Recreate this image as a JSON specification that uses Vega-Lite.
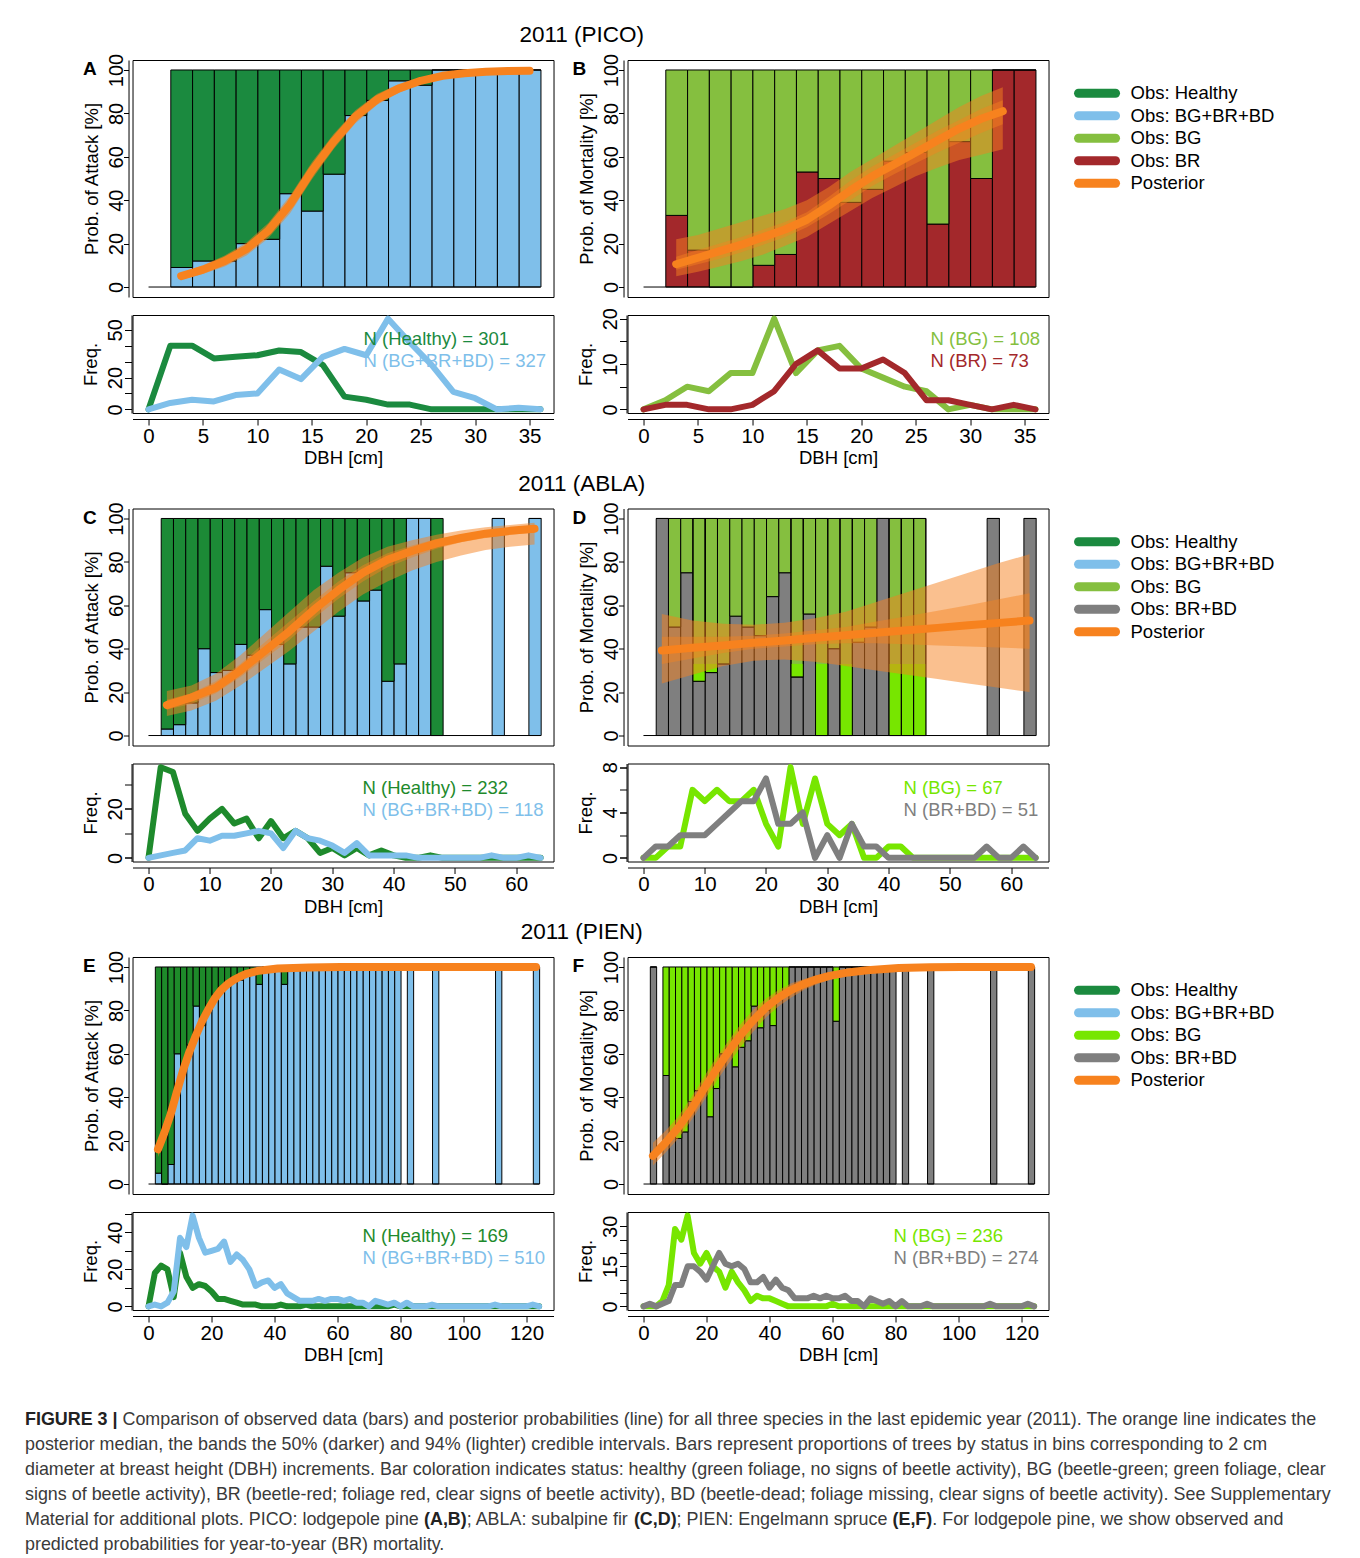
{
"$schema":"https://vega.github.io/schema/vega-lite/v6.json",
"padding":{"left":25,"top":24,"right":0,"bottom":0},
"background":"#ffffff",
"datasets":{
"bars":[
{"p":"A","b":2,"v":9},{"p":"A","b":4,"v":12},{"p":"A","b":6,"v":12},{"p":"A","b":8,"v":20},{"p":"A","b":10,"v":22},{"p":"A","b":12,"v":43},{"p":"A","b":14,"v":35},{"p":"A","b":16,"v":52},{"p":"A","b":18,"v":79},{"p":"A","b":20,"v":86},{"p":"A","b":22,"v":95},{"p":"A","b":24,"v":93},{"p":"A","b":26,"v":100},{"p":"A","b":28,"v":100},{"p":"A","b":30,"v":100},{"p":"A","b":32,"v":100},{"p":"A","b":34,"v":100},
{"p":"B","b":2,"v":33},{"p":"B","b":4,"v":17},{"p":"B","b":6,"v":0},{"p":"B","b":8,"v":0},{"p":"B","b":10,"v":10},{"p":"B","b":12,"v":15},{"p":"B","b":14,"v":53},{"p":"B","b":16,"v":50},{"p":"B","b":18,"v":39},{"p":"B","b":20,"v":45},{"p":"B","b":22,"v":58},{"p":"B","b":24,"v":62},{"p":"B","b":26,"v":29},{"p":"B","b":28,"v":67},{"p":"B","b":30,"v":50},{"p":"B","b":32,"v":100},{"p":"B","b":34,"v":100},
{"p":"C","b":2,"v":3},{"p":"C","b":4,"v":5},{"p":"C","b":6,"v":15},{"p":"C","b":8,"v":40},{"p":"C","b":10,"v":29},{"p":"C","b":12,"v":30},{"p":"C","b":14,"v":42},{"p":"C","b":16,"v":37},{"p":"C","b":18,"v":58},{"p":"C","b":20,"v":42},{"p":"C","b":22,"v":33},{"p":"C","b":24,"v":50},{"p":"C","b":26,"v":50},{"p":"C","b":28,"v":78},{"p":"C","b":30,"v":55},{"p":"C","b":32,"v":75},{"p":"C","b":34,"v":62},{"p":"C","b":36,"v":67},{"p":"C","b":38,"v":25},{"p":"C","b":40,"v":33},{"p":"C","b":42,"v":100},{"p":"C","b":44,"v":100},{"p":"C","b":46,"v":0},{"p":"C","b":56,"v":100},{"p":"C","b":62,"v":100},
{"p":"D","b":2,"v":100},{"p":"D","b":4,"v":50},{"p":"D","b":6,"v":75},{"p":"D","b":8,"v":25,"g":33},{"p":"D","b":10,"v":29,"g":33},{"p":"D","b":12,"v":33},{"p":"D","b":14,"v":55},{"p":"D","b":16,"v":50},{"p":"D","b":18,"v":46},{"p":"D","b":20,"v":64},{"p":"D","b":22,"v":75},{"p":"D","b":24,"v":27,"g":33},{"p":"D","b":26,"v":56},{"p":"D","b":28,"v":0,"g":33},{"p":"D","b":30,"v":40},{"p":"D","b":32,"v":0,"g":33},{"p":"D","b":34,"v":43},{"p":"D","b":36,"v":50},{"p":"D","b":38,"v":100},{"p":"D","b":40,"v":0,"g":33},{"p":"D","b":42,"v":0,"g":33},{"p":"D","b":44,"v":0,"g":33},{"p":"D","b":56,"v":100},{"p":"D","b":62,"v":100},
{"p":"E","b":2,"v":5},{"p":"E","b":4,"v":0},{"p":"E","b":6,"v":9},{"p":"E","b":8,"v":60},{"p":"E","b":10,"v":53},{"p":"E","b":12,"v":64},{"p":"E","b":14,"v":82},{"p":"E","b":16,"v":73},{"p":"E","b":18,"v":80},{"p":"E","b":20,"v":87},{"p":"E","b":22,"v":90},{"p":"E","b":24,"v":92},{"p":"E","b":26,"v":93},{"p":"E","b":28,"v":94},{"p":"E","b":30,"v":97},{"p":"E","b":32,"v":98},{"p":"E","b":34,"v":92},{"p":"E","b":36,"v":100},{"p":"E","b":38,"v":100},{"p":"E","b":40,"v":100},{"p":"E","b":42,"v":92},{"p":"E","b":44,"v":100},{"p":"E","b":46,"v":100},{"p":"E","b":48,"v":100},{"p":"E","b":50,"v":100},{"p":"E","b":52,"v":100},{"p":"E","b":54,"v":100},{"p":"E","b":56,"v":100},{"p":"E","b":58,"v":100},{"p":"E","b":60,"v":100},{"p":"E","b":62,"v":100},{"p":"E","b":64,"v":100},{"p":"E","b":66,"v":100},{"p":"E","b":68,"v":100},{"p":"E","b":70,"v":100},{"p":"E","b":72,"v":100},{"p":"E","b":74,"v":100},{"p":"E","b":76,"v":100},{"p":"E","b":78,"v":100},{"p":"E","b":82,"v":100},{"p":"E","b":90,"v":100},{"p":"E","b":110,"v":100},{"p":"E","b":122,"v":100},
{"p":"F","b":2,"v":100},{"p":"F","b":6,"v":50},{"p":"F","b":8,"v":22},{"p":"F","b":10,"v":21},{"p":"F","b":12,"v":24},{"p":"F","b":14,"v":38},{"p":"F","b":16,"v":43},{"p":"F","b":18,"v":45},{"p":"F","b":20,"v":31},{"p":"F","b":22,"v":44},{"p":"F","b":24,"v":60},{"p":"F","b":26,"v":62},{"p":"F","b":28,"v":54},{"p":"F","b":30,"v":63},{"p":"F","b":32,"v":66},{"p":"F","b":34,"v":82},{"p":"F","b":36,"v":72},{"p":"F","b":38,"v":80},{"p":"F","b":40,"v":73},{"p":"F","b":42,"v":85},{"p":"F","b":44,"v":88},{"p":"F","b":46,"v":100},{"p":"F","b":48,"v":100},{"p":"F","b":50,"v":100},{"p":"F","b":52,"v":100},{"p":"F","b":54,"v":100},{"p":"F","b":56,"v":100},{"p":"F","b":58,"v":100},{"p":"F","b":60,"v":75},{"p":"F","b":62,"v":100},{"p":"F","b":64,"v":100},{"p":"F","b":66,"v":100},{"p":"F","b":68,"v":100},{"p":"F","b":70,"v":100},{"p":"F","b":72,"v":100},{"p":"F","b":74,"v":100},{"p":"F","b":76,"v":100},{"p":"F","b":78,"v":100},{"p":"F","b":82,"v":100},{"p":"F","b":90,"v":100},{"p":"F","b":110,"v":100},{"p":"F","b":122,"v":100}
],
"post":[
{"p":"A","x":3,"m":5,"l9":3.5,"h9":6.5,"l5":4.25,"h5":5.75},{"p":"A","x":5,"m":8,"l9":6,"h9":10,"l5":7,"h5":9},{"p":"A","x":7,"m":12,"l9":9.5,"h9":14.5,"l5":10.75,"h5":13.25},{"p":"A","x":9,"m":17.5,"l9":14.5,"h9":20.5,"l5":16,"h5":19},{"p":"A","x":11,"m":26,"l9":22.5,"h9":29.5,"l5":24.25,"h5":27.75},{"p":"A","x":13,"m":38,"l9":34,"h9":42,"l5":36,"h5":40},{"p":"A","x":15,"m":53.5,"l9":49.5,"h9":57.5,"l5":51.5,"h5":55.5},{"p":"A","x":17,"m":67,"l9":63.5,"h9":70.5,"l5":65.25,"h5":68.75},{"p":"A","x":19,"m":78.5,"l9":75.5,"h9":81.5,"l5":77,"h5":80},{"p":"A","x":21,"m":86.5,"l9":84,"h9":89,"l5":85.25,"h5":87.75},{"p":"A","x":23,"m":91.5,"l9":89.5,"h9":93.5,"l5":90.5,"h5":92.5},{"p":"A","x":25,"m":95,"l9":93.5,"h9":96.5,"l5":94.25,"h5":95.75},{"p":"A","x":27,"m":97.3,"l9":96.3,"h9":98.3,"l5":96.8,"h5":97.8},{"p":"A","x":29,"m":98.5,"l9":97.8,"h9":99.2,"l5":98.15,"h5":98.85},{"p":"A","x":31,"m":99.2,"l9":98.6,"h9":99.6,"l5":98.9,"h5":99.45},{"p":"A","x":33,"m":99.5,"l9":99.1,"h9":99.8,"l5":99.3,"h5":99.65},{"p":"A","x":35,"m":99.7,"l9":99.4,"h9":99.9,"l5":99.55,"h5":99.8},
{"p":"B","x":3,"m":10.5,"l9":5,"h9":22,"l5":8,"h5":14},{"p":"B","x":5,"m":13.5,"l9":7,"h9":24,"l5":10.5,"h5":17},{"p":"B","x":7,"m":16.5,"l9":9.5,"h9":27,"l5":13,"h5":20},{"p":"B","x":9,"m":19.5,"l9":12,"h9":30,"l5":16,"h5":23},{"p":"B","x":11,"m":23,"l9":15,"h9":33,"l5":19.5,"h5":26.5},{"p":"B","x":13,"m":26.5,"l9":19,"h9":36,"l5":23,"h5":30},{"p":"B","x":15,"m":31,"l9":23,"h9":40,"l5":27.5,"h5":34.5},{"p":"B","x":17,"m":37.5,"l9":29,"h9":46,"l5":33.5,"h5":41.5},{"p":"B","x":19,"m":44.5,"l9":35,"h9":53,"l5":40,"h5":49},{"p":"B","x":21,"m":51,"l9":41,"h9":59,"l5":46.5,"h5":55.5},{"p":"B","x":23,"m":56.5,"l9":46,"h9":65,"l5":52,"h5":61},{"p":"B","x":25,"m":62,"l9":51,"h9":71,"l5":57,"h5":66.5},{"p":"B","x":27,"m":67.5,"l9":55,"h9":77,"l5":62,"h5":72},{"p":"B","x":29,"m":73,"l9":58.5,"h9":83,"l5":66.5,"h5":77},{"p":"B","x":31,"m":77.5,"l9":61,"h9":88,"l5":71,"h5":82},{"p":"B","x":33,"m":81,"l9":63.5,"h9":92,"l5":75,"h5":86},
{"p":"C","x":3,"m":14,"l9":9,"h9":20.5,"l5":12,"h5":16.5},{"p":"C","x":7,"m":17.5,"l9":11.5,"h9":23,"l5":14.5,"h5":19.5},{"p":"C","x":11,"m":22,"l9":16,"h9":28.5,"l5":19.5,"h5":25},{"p":"C","x":15,"m":30,"l9":23,"h9":37,"l5":27,"h5":33},{"p":"C","x":19,"m":39,"l9":31,"h9":47,"l5":35.5,"h5":43},{"p":"C","x":23,"m":48,"l9":39,"h9":57,"l5":44,"h5":52.5},{"p":"C","x":27,"m":58,"l9":48,"h9":67,"l5":54,"h5":62},{"p":"C","x":31,"m":67,"l9":57,"h9":75,"l5":63,"h5":71},{"p":"C","x":35,"m":75,"l9":65,"h9":82,"l5":71,"h5":78.5},{"p":"C","x":39,"m":81,"l9":71,"h9":87,"l5":77.5,"h5":84},{"p":"C","x":43,"m":85,"l9":76,"h9":90,"l5":82,"h5":87.5},{"p":"C","x":47,"m":88.5,"l9":80,"h9":92.5,"l5":86,"h5":90.5},{"p":"C","x":51,"m":91,"l9":83,"h9":94.5,"l5":89,"h5":92.5},{"p":"C","x":55,"m":93,"l9":85.5,"h9":96,"l5":91,"h5":94.5},{"p":"C","x":59,"m":94.3,"l9":87,"h9":97,"l5":92.5,"h5":95.5},{"p":"C","x":63,"m":95.3,"l9":88,"h9":98,"l5":93.5,"h5":96.5},
{"p":"D","x":3,"m":39.2,"l9":24,"h9":56,"l5":33,"h5":45.5},{"p":"D","x":8,"m":40.4,"l9":28,"h9":53,"l5":35.5,"h5":45.5},{"p":"D","x":13,"m":41.5,"l9":32,"h9":51.5,"l5":38,"h5":45.5},{"p":"D","x":18,"m":42.7,"l9":34.5,"h9":51,"l5":40,"h5":46},{"p":"D","x":23,"m":43.8,"l9":35,"h9":52,"l5":41,"h5":47},{"p":"D","x":28,"m":45,"l9":34,"h9":54,"l5":42,"h5":48.5},{"p":"D","x":33,"m":46.2,"l9":32,"h9":57,"l5":42.5,"h5":50},{"p":"D","x":38,"m":47.3,"l9":30,"h9":61.5,"l5":42.5,"h5":52.5},{"p":"D","x":43,"m":48.5,"l9":28,"h9":66,"l5":42,"h5":55},{"p":"D","x":48,"m":49.6,"l9":26,"h9":70.5,"l5":41.5,"h5":57.5},{"p":"D","x":53,"m":50.8,"l9":24,"h9":75,"l5":41,"h5":60},{"p":"D","x":58,"m":51.9,"l9":22,"h9":79.5,"l5":40.5,"h5":62.8},{"p":"D","x":63,"m":53,"l9":20,"h9":83.5,"l5":40,"h5":65.5},
{"p":"E","x":3,"m":16,"l9":12.5,"h9":20,"l5":14.5,"h5":17.5},{"p":"E","x":5,"m":23.5,"l9":19,"h9":28.5,"l5":21.5,"h5":25.5},{"p":"E","x":7,"m":32,"l9":27,"h9":37,"l5":30,"h5":34},{"p":"E","x":9,"m":42.5,"l9":37.5,"h9":47.5,"l5":40.5,"h5":44.5},{"p":"E","x":11,"m":52.5,"l9":48,"h9":57,"l5":50.5,"h5":54.5},{"p":"E","x":13,"m":61,"l9":57,"h9":65,"l5":59.3,"h5":62.7},{"p":"E","x":15,"m":68.3,"l9":65,"h9":71.5,"l5":66.8,"h5":69.8},{"p":"E","x":17,"m":75,"l9":72,"h9":78,"l5":73.7,"h5":76.3},{"p":"E","x":19,"m":80.5,"l9":78,"h9":83,"l5":79.4,"h5":81.6},{"p":"E","x":21,"m":85.5,"l9":83.5,"h9":87.5,"l5":84.6,"h5":86.4},{"p":"E","x":23,"m":89.3,"l9":87.5,"h9":91,"l5":88.5,"h5":90},{"p":"E","x":25,"m":92,"l9":90.5,"h9":93.5,"l5":91.4,"h5":92.6},{"p":"E","x":27,"m":94,"l9":92.5,"h9":95.3,"l5":93.5,"h5":94.5},{"p":"E","x":29,"m":95.5,"l9":94.3,"h9":96.6,"l5":95.1,"h5":95.9},{"p":"E","x":31,"m":96.8,"l9":95.7,"h9":97.7,"l5":96.5,"h5":97.1},{"p":"E","x":35,"m":98.3,"l9":97.6,"h9":98.9,"l5":98.1,"h5":98.5},{"p":"E","x":41,"m":99.3,"l9":98.9,"h9":99.6,"l5":99.2,"h5":99.4},{"p":"E","x":51,"m":99.8,"l9":99.6,"h9":99.95,"l5":99.75,"h5":99.85},{"p":"E","x":61,"m":99.95,"l9":99.9,"h9":100,"l5":99.93,"h5":99.97},{"p":"E","x":81,"m":100,"l9":100,"h9":100,"l5":100,"h5":100},{"p":"E","x":123,"m":100,"l9":100,"h9":100,"l5":100,"h5":100},
{"p":"F","x":3,"m":13,"l9":8.5,"h9":19,"l5":11,"h5":15.5},{"p":"F","x":7,"m":19,"l9":14.5,"h9":24.5,"l5":17,"h5":21.5},{"p":"F","x":11,"m":26,"l9":21,"h9":31,"l5":23.5,"h5":28.5},{"p":"F","x":15,"m":34,"l9":29,"h9":39.5,"l5":31.5,"h5":36.5},{"p":"F","x":19,"m":43.5,"l9":38,"h9":49,"l5":41,"h5":46},{"p":"F","x":23,"m":52.5,"l9":47,"h9":58,"l5":50,"h5":55},{"p":"F","x":27,"m":61,"l9":55.5,"h9":66,"l5":58.5,"h5":63.5},{"p":"F","x":31,"m":69,"l9":63.5,"h9":74,"l5":66.5,"h5":71.5},{"p":"F","x":35,"m":75.7,"l9":70.5,"h9":80.5,"l5":73.5,"h5":78},{"p":"F","x":39,"m":81.5,"l9":77,"h9":85.5,"l5":79.5,"h5":83.5},{"p":"F","x":43,"m":86,"l9":82,"h9":89.5,"l5":84.3,"h5":87.8},{"p":"F","x":47,"m":89.5,"l9":86,"h9":92.5,"l5":88,"h5":91},{"p":"F","x":51,"m":92.2,"l9":89.5,"h9":94.5,"l5":91,"h5":93.4},{"p":"F","x":55,"m":94.3,"l9":92,"h9":96.2,"l5":93.3,"h5":95.2},{"p":"F","x":59,"m":95.9,"l9":94,"h9":97.4,"l5":95,"h5":96.7},{"p":"F","x":65,"m":97.5,"l9":96.2,"h9":98.6,"l5":97,"h5":98},{"p":"F","x":71,"m":98.5,"l9":97.6,"h9":99.2,"l5":98.2,"h5":98.8},{"p":"F","x":81,"m":99.5,"l9":99,"h9":99.8,"l5":99.3,"h5":99.7},{"p":"F","x":91,"m":99.9,"l9":99.7,"h9":100,"l5":99.8,"h5":99.95},{"p":"F","x":101,"m":100,"l9":99.9,"h9":100,"l5":99.95,"h5":100},{"p":"F","x":123,"m":100,"l9":100,"h9":100,"l5":100,"h5":100}
],
"freq":[
{"p":"A","x":0,"a":0,"b":0},{"p":"A","x":2,"a":40,"b":4},{"p":"A","x":4,"a":40,"b":6},{"p":"A","x":6,"a":32,"b":5},{"p":"A","x":8,"a":33,"b":9},{"p":"A","x":10,"a":34,"b":10},{"p":"A","x":12,"a":37,"b":25},{"p":"A","x":14,"a":36,"b":19},{"p":"A","x":16,"a":28,"b":33},{"p":"A","x":18,"a":8,"b":38},{"p":"A","x":20,"a":6,"b":34},{"p":"A","x":22,"a":3,"b":57},{"p":"A","x":24,"a":3,"b":42},{"p":"A","x":26,"a":0,"b":28},{"p":"A","x":28,"a":0,"b":11},{"p":"A","x":30,"a":0,"b":7},{"p":"A","x":32,"a":0,"b":0},{"p":"A","x":34,"a":0,"b":1},{"p":"A","x":36,"a":0,"b":0},
{"p":"B","x":0,"a":0,"b":0},{"p":"B","x":2,"a":2,"b":1},{"p":"B","x":4,"a":5,"b":1},{"p":"B","x":6,"a":4,"b":0},{"p":"B","x":8,"a":8,"b":0},{"p":"B","x":10,"a":8,"b":1},{"p":"B","x":12,"a":20,"b":4},{"p":"B","x":14,"a":8,"b":10},{"p":"B","x":16,"a":13,"b":13},{"p":"B","x":18,"a":14,"b":9},{"p":"B","x":20,"a":9,"b":9},{"p":"B","x":22,"a":7,"b":11},{"p":"B","x":24,"a":5,"b":8},{"p":"B","x":26,"a":4,"b":2},{"p":"B","x":28,"a":0,"b":2},{"p":"B","x":30,"a":1,"b":1},{"p":"B","x":32,"a":0,"b":0},{"p":"B","x":34,"a":0,"b":1},{"p":"B","x":36,"a":0,"b":0},
{"p":"C","x":0,"a":0,"b":0},{"p":"C","x":2,"a":37,"b":1},{"p":"C","x":4,"a":35,"b":2},{"p":"C","x":6,"a":18,"b":3},{"p":"C","x":8,"a":11,"b":8},{"p":"C","x":10,"a":16,"b":7},{"p":"C","x":12,"a":20,"b":9},{"p":"C","x":14,"a":14,"b":9},{"p":"C","x":16,"a":16,"b":10},{"p":"C","x":18,"a":8,"b":11},{"p":"C","x":20,"a":15,"b":10},{"p":"C","x":22,"a":8,"b":4},{"p":"C","x":24,"a":11,"b":11},{"p":"C","x":26,"a":8,"b":8},{"p":"C","x":28,"a":2,"b":7},{"p":"C","x":30,"a":4,"b":5},{"p":"C","x":32,"a":1,"b":2},{"p":"C","x":34,"a":4,"b":6},{"p":"C","x":36,"a":1,"b":1},{"p":"C","x":38,"a":3,"b":1},{"p":"C","x":40,"a":1,"b":1},{"p":"C","x":42,"a":0,"b":1},{"p":"C","x":44,"a":0,"b":0},{"p":"C","x":46,"a":1,"b":0},{"p":"C","x":48,"a":0,"b":0},{"p":"C","x":50,"a":0,"b":0},{"p":"C","x":52,"a":0,"b":0},{"p":"C","x":54,"a":0,"b":0},{"p":"C","x":56,"a":0,"b":1},{"p":"C","x":58,"a":0,"b":0},{"p":"C","x":60,"a":0,"b":0},{"p":"C","x":62,"a":0,"b":1},{"p":"C","x":64,"a":0,"b":0},
{"p":"D","x":0,"a":0,"b":0},{"p":"D","x":2,"a":0,"b":1},{"p":"D","x":4,"a":1,"b":1},{"p":"D","x":6,"a":1,"b":2},{"p":"D","x":8,"a":6,"b":2},{"p":"D","x":10,"a":5,"b":2},{"p":"D","x":12,"a":6,"b":3},{"p":"D","x":14,"a":5,"b":4},{"p":"D","x":16,"a":5,"b":5},{"p":"D","x":18,"a":6,"b":5},{"p":"D","x":20,"a":3,"b":7},{"p":"D","x":22,"a":1,"b":3},{"p":"D","x":24,"a":8,"b":3},{"p":"D","x":26,"a":3,"b":4},{"p":"D","x":28,"a":7,"b":0},{"p":"D","x":30,"a":3,"b":2},{"p":"D","x":32,"a":2,"b":0},{"p":"D","x":34,"a":3,"b":3},{"p":"D","x":36,"a":0,"b":1},{"p":"D","x":38,"a":0,"b":1},{"p":"D","x":40,"a":1,"b":0},{"p":"D","x":42,"a":1,"b":0},{"p":"D","x":44,"a":0,"b":0},{"p":"D","x":46,"a":0,"b":0},{"p":"D","x":48,"a":0,"b":0},{"p":"D","x":50,"a":0,"b":0},{"p":"D","x":52,"a":0,"b":0},{"p":"D","x":54,"a":0,"b":0},{"p":"D","x":56,"a":0,"b":1},{"p":"D","x":58,"a":0,"b":0},{"p":"D","x":60,"a":0,"b":0},{"p":"D","x":62,"a":0,"b":1},{"p":"D","x":64,"a":0,"b":0},
{"p":"E","x":0,"a":0,"b":0},{"p":"E","x":2,"a":18,"b":1},{"p":"E","x":4,"a":22,"b":0},{"p":"E","x":6,"a":20,"b":2},{"p":"E","x":8,"a":5,"b":8},{"p":"E","x":10,"a":29,"b":37},{"p":"E","x":12,"a":16,"b":32},{"p":"E","x":14,"a":10,"b":49},{"p":"E","x":16,"a":12,"b":37},{"p":"E","x":18,"a":11,"b":29},{"p":"E","x":20,"a":8,"b":30},{"p":"E","x":22,"a":4,"b":31},{"p":"E","x":24,"a":4,"b":35},{"p":"E","x":26,"a":3,"b":24},{"p":"E","x":28,"a":2,"b":28},{"p":"E","x":30,"a":1,"b":25},{"p":"E","x":32,"a":1,"b":20},{"p":"E","x":34,"a":1,"b":11},{"p":"E","x":36,"a":0,"b":13},{"p":"E","x":38,"a":0,"b":14},{"p":"E","x":40,"a":0,"b":10},{"p":"E","x":42,"a":1,"b":12},{"p":"E","x":44,"a":0,"b":7},{"p":"E","x":46,"a":0,"b":5},{"p":"E","x":48,"a":0,"b":3},{"p":"E","x":50,"a":1,"b":3},{"p":"E","x":52,"a":0,"b":3},{"p":"E","x":54,"a":0,"b":4},{"p":"E","x":56,"a":0,"b":3},{"p":"E","x":58,"a":0,"b":4},{"p":"E","x":60,"a":0,"b":4},{"p":"E","x":62,"a":0,"b":3},{"p":"E","x":64,"a":0,"b":4},{"p":"E","x":66,"a":0,"b":2},{"p":"E","x":68,"a":0,"b":2},{"p":"E","x":70,"a":0,"b":0},{"p":"E","x":72,"a":0,"b":3},{"p":"E","x":74,"a":0,"b":2},{"p":"E","x":76,"a":0,"b":1},{"p":"E","x":78,"a":1,"b":2},{"p":"E","x":80,"a":0,"b":0},{"p":"E","x":82,"a":0,"b":2},{"p":"E","x":84,"a":0,"b":0},{"p":"E","x":86,"a":0,"b":0},{"p":"E","x":88,"a":0,"b":0},{"p":"E","x":90,"a":0,"b":1},{"p":"E","x":92,"a":0,"b":0},{"p":"E","x":94,"a":0,"b":0},{"p":"E","x":96,"a":0,"b":0},{"p":"E","x":98,"a":0,"b":0},{"p":"E","x":100,"a":0,"b":0},{"p":"E","x":102,"a":0,"b":0},{"p":"E","x":104,"a":0,"b":0},{"p":"E","x":106,"a":0,"b":0},{"p":"E","x":108,"a":0,"b":0},{"p":"E","x":110,"a":0,"b":1},{"p":"E","x":112,"a":0,"b":0},{"p":"E","x":114,"a":0,"b":0},{"p":"E","x":116,"a":0,"b":0},{"p":"E","x":118,"a":0,"b":0},{"p":"E","x":120,"a":0,"b":0},{"p":"E","x":122,"a":0,"b":1},{"p":"E","x":124,"a":0,"b":0},
{"p":"F","x":0,"a":0,"b":0},{"p":"F","x":2,"a":0,"b":1},{"p":"F","x":4,"a":0,"b":0},{"p":"F","x":6,"a":2,"b":1},{"p":"F","x":8,"a":8,"b":2},{"p":"F","x":10,"a":29,"b":8},{"p":"F","x":12,"a":25,"b":8},{"p":"F","x":14,"a":34,"b":15},{"p":"F","x":16,"a":20,"b":15},{"p":"F","x":18,"a":16,"b":13},{"p":"F","x":20,"a":20,"b":10},{"p":"F","x":22,"a":15,"b":15},{"p":"F","x":24,"a":13,"b":20},{"p":"F","x":26,"a":7,"b":16},{"p":"F","x":28,"a":13,"b":15},{"p":"F","x":30,"a":9,"b":16},{"p":"F","x":32,"a":6,"b":14},{"p":"F","x":34,"a":2,"b":9},{"p":"F","x":36,"a":4,"b":9},{"p":"F","x":38,"a":3,"b":11},{"p":"F","x":40,"a":3,"b":7},{"p":"F","x":42,"a":2,"b":10},{"p":"F","x":44,"a":1,"b":7},{"p":"F","x":46,"a":0,"b":6},{"p":"F","x":48,"a":0,"b":3},{"p":"F","x":50,"a":0,"b":3},{"p":"F","x":52,"a":0,"b":3},{"p":"F","x":54,"a":0,"b":4},{"p":"F","x":56,"a":0,"b":3},{"p":"F","x":58,"a":0,"b":4},{"p":"F","x":60,"a":1,"b":3},{"p":"F","x":62,"a":0,"b":3},{"p":"F","x":64,"a":0,"b":4},{"p":"F","x":66,"a":0,"b":2},{"p":"F","x":68,"a":0,"b":2},{"p":"F","x":70,"a":0,"b":0},{"p":"F","x":72,"a":0,"b":3},{"p":"F","x":74,"a":0,"b":2},{"p":"F","x":76,"a":0,"b":1},{"p":"F","x":78,"a":0,"b":2},{"p":"F","x":80,"a":0,"b":0},{"p":"F","x":82,"a":0,"b":2},{"p":"F","x":84,"a":0,"b":0},{"p":"F","x":86,"a":0,"b":0},{"p":"F","x":88,"a":0,"b":0},{"p":"F","x":90,"a":0,"b":1},{"p":"F","x":92,"a":0,"b":0},{"p":"F","x":94,"a":0,"b":0},{"p":"F","x":96,"a":0,"b":0},{"p":"F","x":98,"a":0,"b":0},{"p":"F","x":100,"a":0,"b":0},{"p":"F","x":102,"a":0,"b":0},{"p":"F","x":104,"a":0,"b":0},{"p":"F","x":106,"a":0,"b":0},{"p":"F","x":108,"a":0,"b":0},{"p":"F","x":110,"a":0,"b":1},{"p":"F","x":112,"a":0,"b":0},{"p":"F","x":114,"a":0,"b":0},{"p":"F","x":116,"a":0,"b":0},{"p":"F","x":118,"a":0,"b":0},{"p":"F","x":120,"a":0,"b":0},{"p":"F","x":122,"a":0,"b":1},{"p":"F","x":124,"a":0,"b":0}
],
"notes":[
{"p":"A","k":1,"t":"N (Healthy) = 301"},{"p":"A","k":2,"t":"N (BG+BR+BD) = 327"},
{"p":"B","k":1,"t":"N (BG) = 108"},{"p":"B","k":2,"t":"N (BR) = 73"},
{"p":"C","k":1,"t":"N (Healthy) = 232"},{"p":"C","k":2,"t":"N (BG+BR+BD) = 118"},
{"p":"D","k":1,"t":"N (BG) = 67"},{"p":"D","k":2,"t":"N (BR+BD) = 51"},
{"p":"E","k":1,"t":"N (Healthy) = 169"},{"p":"E","k":2,"t":"N (BG+BR+BD) = 510"},
{"p":"F","k":1,"t":"N (BG) = 236"},{"p":"F","k":2,"t":"N (BR+BD) = 274"}
],
"letters":[{"p":"A"},{"p":"B"},{"p":"C"},{"p":"D"},{"p":"E"},{"p":"F"}],
"legend":[
{"sec":1,"i":1,"t":"Obs: Healthy","k":"healthy"},{"sec":1,"i":2,"t":"Obs: BG+BR+BD","k":"attacked"},{"sec":1,"i":3,"t":"Obs: BG","k":"bg"},{"sec":1,"i":4,"t":"Obs: BR","k":"br"},{"sec":1,"i":5,"t":"Posterior","k":"post"},
{"sec":2,"i":1,"t":"Obs: Healthy","k":"healthy"},{"sec":2,"i":2,"t":"Obs: BG+BR+BD","k":"attacked"},{"sec":2,"i":3,"t":"Obs: BG","k":"bg"},{"sec":2,"i":4,"t":"Obs: BR+BD","k":"brbd"},{"sec":2,"i":5,"t":"Posterior","k":"post"},
{"sec":3,"i":1,"t":"Obs: Healthy","k":"healthy"},{"sec":3,"i":2,"t":"Obs: BG+BR+BD","k":"attacked"},{"sec":3,"i":3,"t":"Obs: BG","k":"bglime"},{"sec":3,"i":4,"t":"Obs: BR+BD","k":"brbd"},{"sec":3,"i":5,"t":"Posterior","k":"post"}
],
"cap":[
{"g":"b1","l":1,"t":"FIGURE 3 |"},
{"g":"n1","l":1,"t":"Comparison of observed data (bars) and posterior probabilities (line) for all three species in the last epidemic year (2011). The orange line indicates the"},
{"g":"n","l":2,"t":"posterior median, the bands the 50% (darker) and 94% (lighter) credible intervals. Bars represent proportions of trees by status in bins corresponding to 2 cm"},
{"g":"n","l":3,"t":"diameter at breast height (DBH) increments. Bar coloration indicates status: healthy (green foliage, no signs of beetle activity), BG (beetle-green; green foliage, clear"},
{"g":"n","l":4,"t":"signs of beetle activity), BR (beetle-red; foliage red, clear signs of beetle activity), BD (beetle-dead; foliage missing, clear signs of beetle activity). See Supplementary"},
{"g":"s1","l":5,"t":"Material for additional plots. PICO: lodgepole pine"},
{"g":"s2","l":5,"t":"(A,B)"},
{"g":"s3","l":5,"t":"; ABLA: subalpine fir"},
{"g":"s4","l":5,"t":"(C,D)"},
{"g":"s5","l":5,"t":"; PIEN: Engelmann spruce"},
{"g":"s6","l":5,"t":"(E,F)"},
{"g":"s7","l":5,"t":". For lodgepole pine, we show observed and"},
{"g":"n","l":6,"t":"predicted probabilities for year-to-year (BR) mortality."}
]
},
"vconcat":[
{"vconcat":[
{"title":{"text":"2011 (PICO)","anchor":"middle","fontSize":22.5,"offset":6,"dx":-96},
 "spacing":17,
 "resolve":{"scale":{"x":"independent","y":"independent","color":"independent"}},
 "hconcat":[
  {"vconcat":[
   {"width":421,"height":237,
    "layer":[
     {"data":{"name":"bars"},"transform":[{"filter":"datum.p=='A'"}],"mark":{"type":"rect","color":"#7fbfea","stroke":"#000","strokeWidth":1,"binSpacing":0},"encoding":{"x":{"field":"b","type":"quantitative","bin":{"binned":true,"step":2},"scale":{"domain":[-1.47,37.2],"nice":false,"zero":false},"axis":null},"y":{"field":"v","type":"quantitative","scale":{"domain":[-4.6,104.6],"nice":false,"zero":false},"axis":{"values":[0,20,40,60,80,100],"title":"Prob. of Attack [%]","offset":4,"tickSize":5,"labelAngle":-90,"labelAlign":"center","labelBaseline":"alphabetic","labelPadding":1.5,"labelFontSize":20,"titleFontSize":18.5,"titlePadding":5,"labelOverlap":false,"labelFlush":false}},"y2":{"datum":0}}},
     {"data":{"name":"bars"},"transform":[{"filter":"datum.p=='A'"}],"mark":{"type":"rect","color":"#1b8a3f","stroke":"#000","strokeWidth":1,"binSpacing":0},"encoding":{"x":{"field":"b","type":"quantitative","bin":{"binned":true,"step":2},"axis":null},"y":{"field":"v","type":"quantitative"},"y2":{"datum":100}}},
     {"data":{"values":[{}]},"mark":{"type":"rule","color":"#000","strokeWidth":1},"encoding":{"x":{"datum":0,"type":"quantitative","axis":null},"x2":{"datum":36},"y":{"datum":0,"type":"quantitative"}}},
     {"data":{"name":"post"},"transform":[{"filter":"datum.p=='A'"}],"mark":{"type":"area","color":"#f58220","opacity":0.5},"encoding":{"x":{"field":"x","type":"quantitative","axis":null},"y":{"field":"l9","type":"quantitative"},"y2":{"field":"h9"}}},
     {"data":{"name":"post"},"transform":[{"filter":"datum.p=='A'"}],"mark":{"type":"area","color":"#f58220","opacity":0.45},"encoding":{"x":{"field":"x","type":"quantitative","axis":null},"y":{"field":"l5","type":"quantitative"},"y2":{"field":"h5"}}},
     {"data":{"name":"post"},"transform":[{"filter":"datum.p=='A'"}],"mark":{"type":"line","color":"#f7821e","strokeWidth":8,"strokeCap":"round","strokeJoin":"round"},"encoding":{"x":{"field":"x","type":"quantitative","axis":null},"y":{"field":"m","type":"quantitative"}}},
     {"data":{"name":"letters"},"transform":[{"filter":"datum.p=='A'"}],"mark":{"type":"text","align":"left","baseline":"alphabetic","fontSize":19,"fontWeight":"bold","color":"#000","dx":-49.5,"dy":15},"encoding":{"x":{"datum":-1.47,"type":"quantitative","axis":null},"y":{"datum":104.6,"type":"quantitative"},"text":{"field":"p"}}}
    ]},
   {"width":421,"height":98,
    "resolve":{"axis":{"y":"independent"}},
    "layer":[
     {"data":{"name":"freq"},"transform":[{"filter":"datum.p=='A'"}],"mark":{"type":"line","color":"#1b8a3f","strokeWidth":6,"strokeJoin":"round","strokeCap":"round"},"encoding":{"x":{"field":"x","type":"quantitative","scale":{"domain":[-1.47,37.2],"nice":false,"zero":false},"axis":{"values":[0,5,10,15,20,25,30,35],"title":"DBH [cm]","offset":6,"tickSize":6,"labelPadding":1,"labelFontSize":20.5,"labelAngle":0,"titleFontSize":18.5,"titlePadding":2,"labelOverlap":false,"labelFlush":false}},"y":{"field":"a","type":"quantitative","scale":{"domain":[-2.3,59.3],"nice":false,"zero":false},"axis":{"orient":"left","values":[0,20,50],"title":"Freq.","offset":1,"tickSize":7,"labelAngle":-90,"labelAlign":"center","labelBaseline":"alphabetic","labelPadding":3,"labelFontSize":20,"titleFontSize":18.5,"titlePadding":5,"labelOverlap":false,"labelFlush":false}}}},
     {"data":{"name":"freq"},"transform":[{"filter":"datum.p=='A'"}],"mark":{"type":"line","color":"#7fbfea","strokeWidth":6,"strokeJoin":"round","strokeCap":"round"},"encoding":{"x":{"field":"x","type":"quantitative"},"y":{"field":"b","type":"quantitative","axis":{"orient":"left","values":[0,10,20,30,40,50],"labels":false,"domain":false,"title":null,"offset":1,"tickSize":7}}}},
     {"data":{"name":"notes"},"transform":[{"filter":"datum.p=='A' && datum.k==1"}],"mark":{"type":"text","align":"left","baseline":"middle","fontSize":18.5,"color":"#1b8a3f","dx":-190,"dy":24},"encoding":{"x":{"datum":37.2,"type":"quantitative"},"y":{"datum":59.3,"type":"quantitative","axis":null},"text":{"field":"t"}}},
     {"data":{"name":"notes"},"transform":[{"filter":"datum.p=='A' && datum.k==2"}],"mark":{"type":"text","align":"left","baseline":"middle","fontSize":18.5,"color":"#7fbfea","dx":-190,"dy":46},"encoding":{"x":{"datum":37.2,"type":"quantitative"},"y":{"datum":59.3,"type":"quantitative","axis":null},"text":{"field":"t"}}}
    ]}
  ],"spacing":18,"bounds":"flush","resolve":{"scale":{"x":"independent","y":"independent"}}},
  {"vconcat":[
   {"width":421,"height":237,
    "layer":[
     {"data":{"name":"bars"},"transform":[{"filter":"datum.p=='B'"}],"mark":{"type":"rect","color":"#a3282b","stroke":"#000","strokeWidth":1,"binSpacing":0},"encoding":{"x":{"field":"b","type":"quantitative","bin":{"binned":true,"step":2},"scale":{"domain":[-1.47,37.2],"nice":false,"zero":false},"axis":null},"y":{"field":"v","type":"quantitative","scale":{"domain":[-4.6,104.6],"nice":false,"zero":false},"axis":{"values":[0,20,40,60,80,100],"title":"Prob. of Mortality [%]","offset":4,"tickSize":5,"labelAngle":-90,"labelAlign":"center","labelBaseline":"alphabetic","labelPadding":1.5,"labelFontSize":20,"titleFontSize":18.5,"titlePadding":5,"labelOverlap":false,"labelFlush":false}},"y2":{"datum":0}}},
     {"data":{"name":"bars"},"transform":[{"filter":"datum.p=='B'"}],"mark":{"type":"rect","color":"#85bf3f","stroke":"#000","strokeWidth":1,"binSpacing":0},"encoding":{"x":{"field":"b","type":"quantitative","bin":{"binned":true,"step":2},"axis":null},"y":{"field":"v","type":"quantitative"},"y2":{"datum":100}}},
     {"data":{"values":[{}]},"mark":{"type":"rule","color":"#000","strokeWidth":1},"encoding":{"x":{"datum":0,"type":"quantitative","axis":null},"x2":{"datum":36},"y":{"datum":0,"type":"quantitative"}}},
     {"data":{"name":"post"},"transform":[{"filter":"datum.p=='B'"}],"mark":{"type":"area","color":"#f58220","opacity":0.5},"encoding":{"x":{"field":"x","type":"quantitative","axis":null},"y":{"field":"l9","type":"quantitative"},"y2":{"field":"h9"}}},
     {"data":{"name":"post"},"transform":[{"filter":"datum.p=='B'"}],"mark":{"type":"area","color":"#f58220","opacity":0.45},"encoding":{"x":{"field":"x","type":"quantitative","axis":null},"y":{"field":"l5","type":"quantitative"},"y2":{"field":"h5"}}},
     {"data":{"name":"post"},"transform":[{"filter":"datum.p=='B'"}],"mark":{"type":"line","color":"#f7821e","strokeWidth":8,"strokeCap":"round","strokeJoin":"round"},"encoding":{"x":{"field":"x","type":"quantitative","axis":null},"y":{"field":"m","type":"quantitative"}}},
     {"data":{"name":"letters"},"transform":[{"filter":"datum.p=='B'"}],"mark":{"type":"text","align":"left","baseline":"alphabetic","fontSize":19,"fontWeight":"bold","color":"#000","dx":-55,"dy":15},"encoding":{"x":{"datum":-1.47,"type":"quantitative","axis":null},"y":{"datum":104.6,"type":"quantitative"},"text":{"field":"p"}}}
    ]},
   {"width":421,"height":98,
    "resolve":{"axis":{"y":"independent"}},
    "layer":[
     {"data":{"name":"freq"},"transform":[{"filter":"datum.p=='B'"}],"mark":{"type":"line","color":"#85bf3f","strokeWidth":6,"strokeJoin":"round","strokeCap":"round"},"encoding":{"x":{"field":"x","type":"quantitative","scale":{"domain":[-1.47,37.2],"nice":false,"zero":false},"axis":{"values":[0,5,10,15,20,25,30,35],"title":"DBH [cm]","offset":6,"tickSize":6,"labelPadding":1,"labelFontSize":20.5,"labelAngle":0,"titleFontSize":18.5,"titlePadding":2,"labelOverlap":false,"labelFlush":false}},"y":{"field":"a","type":"quantitative","scale":{"domain":[-0.8,20.8],"nice":false,"zero":false},"axis":{"orient":"left","values":[0,10,20],"title":"Freq.","offset":1,"tickSize":7,"labelAngle":-90,"labelAlign":"center","labelBaseline":"alphabetic","labelPadding":3,"labelFontSize":20,"titleFontSize":18.5,"titlePadding":5,"labelOverlap":false,"labelFlush":false}}}},
     {"data":{"name":"freq"},"transform":[{"filter":"datum.p=='B'"}],"mark":{"type":"line","color":"#a3282b","strokeWidth":6,"strokeJoin":"round","strokeCap":"round"},"encoding":{"x":{"field":"x","type":"quantitative"},"y":{"field":"b","type":"quantitative","axis":{"orient":"left","values":[0,5,10,15,20],"labels":false,"domain":false,"title":null,"offset":1,"tickSize":7}}}},
     {"data":{"name":"notes"},"transform":[{"filter":"datum.p=='B' && datum.k==1"}],"mark":{"type":"text","align":"left","baseline":"middle","fontSize":18.5,"color":"#85bf3f","dx":-118,"dy":24},"encoding":{"x":{"datum":37.2,"type":"quantitative"},"y":{"datum":20.8,"type":"quantitative","axis":null},"text":{"field":"t"}}},
     {"data":{"name":"notes"},"transform":[{"filter":"datum.p=='B' && datum.k==2"}],"mark":{"type":"text","align":"left","baseline":"middle","fontSize":18.5,"color":"#a3282b","dx":-118,"dy":46},"encoding":{"x":{"datum":37.2,"type":"quantitative"},"y":{"datum":20.8,"type":"quantitative","axis":null},"text":{"field":"t"}}}
    ]}
  ],"spacing":18,"bounds":"flush","resolve":{"scale":{"x":"independent","y":"independent"}}},
  {"width":200,"height":240,"view":{"stroke":null},
   "data":{"name":"legend"},"transform":[{"filter":"datum.sec==1"}],
   "layer":[
    {"mark":{"type":"rule","strokeWidth":9,"strokeCap":"round"},"encoding":{"x":{"datum":12,"type":"quantitative","scale":{"domain":[0,200],"nice":false,"zero":false},"axis":null},"x2":{"datum":49},"y":{"field":"i","type":"quantitative","scale":{"domain":[-0.476,10.19],"reverse":true,"nice":false,"zero":false},"axis":null},"color":{"field":"k","type":"nominal","scale":{"domain":["healthy","attacked","bg","br","post","brbd","bglime"],"range":["#1b8a3f","#7fbfea","#85bf3f","#a3282b","#f7821e","#7f7f7f","#77e600"]},"legend":null}}},
    {"mark":{"type":"text","align":"left","baseline":"middle","fontSize":18.5,"color":"#000"},"encoding":{"x":{"datum":64,"type":"quantitative","axis":null},"y":{"field":"i","type":"quantitative","axis":null},"text":{"field":"t"}}}
   ]}
 ]},
{"title":{"text":"2011 (ABLA)","anchor":"middle","fontSize":22.5,"offset":6,"dx":-96},
 "spacing":17,
 "resolve":{"scale":{"x":"independent","y":"independent","color":"independent"}},
 "hconcat":[
  {"vconcat":[
   {"width":421,"height":237,
    "layer":[
     {"data":{"name":"bars"},"transform":[{"filter":"datum.p=='C'"}],"mark":{"type":"rect","color":"#7fbfea","stroke":"#000","strokeWidth":1,"binSpacing":0},"encoding":{"x":{"field":"b","type":"quantitative","bin":{"binned":true,"step":2},"scale":{"domain":[-2.6,66.1],"nice":false,"zero":false},"axis":null},"y":{"field":"v","type":"quantitative","scale":{"domain":[-4.6,104.6],"nice":false,"zero":false},"axis":{"values":[0,20,40,60,80,100],"title":"Prob. of Attack [%]","offset":4,"tickSize":5,"labelAngle":-90,"labelAlign":"center","labelBaseline":"alphabetic","labelPadding":1.5,"labelFontSize":20,"titleFontSize":18.5,"titlePadding":5,"labelOverlap":false,"labelFlush":false}},"y2":{"datum":0}}},
     {"data":{"name":"bars"},"transform":[{"filter":"datum.p=='C'"}],"mark":{"type":"rect","color":"#1c8a36","stroke":"#000","strokeWidth":1,"binSpacing":0},"encoding":{"x":{"field":"b","type":"quantitative","bin":{"binned":true,"step":2},"axis":null},"y":{"field":"v","type":"quantitative"},"y2":{"datum":100}}},
     {"data":{"values":[{}]},"mark":{"type":"rule","color":"#000","strokeWidth":1},"encoding":{"x":{"datum":0,"type":"quantitative","axis":null},"x2":{"datum":64},"y":{"datum":0,"type":"quantitative"}}},
     {"data":{"name":"post"},"transform":[{"filter":"datum.p=='C'"}],"mark":{"type":"area","color":"#f58220","opacity":0.5},"encoding":{"x":{"field":"x","type":"quantitative","axis":null},"y":{"field":"l9","type":"quantitative"},"y2":{"field":"h9"}}},
     {"data":{"name":"post"},"transform":[{"filter":"datum.p=='C'"}],"mark":{"type":"area","color":"#f58220","opacity":0.45},"encoding":{"x":{"field":"x","type":"quantitative","axis":null},"y":{"field":"l5","type":"quantitative"},"y2":{"field":"h5"}}},
     {"data":{"name":"post"},"transform":[{"filter":"datum.p=='C'"}],"mark":{"type":"line","color":"#f7821e","strokeWidth":8,"strokeCap":"round","strokeJoin":"round"},"encoding":{"x":{"field":"x","type":"quantitative","axis":null},"y":{"field":"m","type":"quantitative"}}},
     {"data":{"name":"letters"},"transform":[{"filter":"datum.p=='C'"}],"mark":{"type":"text","align":"left","baseline":"alphabetic","fontSize":19,"fontWeight":"bold","color":"#000","dx":-49.5,"dy":15},"encoding":{"x":{"datum":-2.6,"type":"quantitative","axis":null},"y":{"datum":104.6,"type":"quantitative"},"text":{"field":"p"}}}
    ]},
   {"width":421,"height":98,
    "resolve":{"axis":{"y":"independent"}},
    "layer":[
     {"data":{"name":"freq"},"transform":[{"filter":"datum.p=='C'"}],"mark":{"type":"line","color":"#1e8a2c","strokeWidth":6,"strokeJoin":"round","strokeCap":"round"},"encoding":{"x":{"field":"x","type":"quantitative","scale":{"domain":[-2.6,66.1],"nice":false,"zero":false},"axis":{"values":[0,10,20,30,40,50,60],"title":"DBH [cm]","offset":6,"tickSize":6,"labelPadding":1,"labelFontSize":20.5,"labelAngle":0,"titleFontSize":18.5,"titlePadding":2,"labelOverlap":false,"labelFlush":false}},"y":{"field":"a","type":"quantitative","scale":{"domain":[-1.5,38.5],"nice":false,"zero":false},"axis":{"orient":"left","values":[0,20],"title":"Freq.","offset":1,"tickSize":7,"labelAngle":-90,"labelAlign":"center","labelBaseline":"alphabetic","labelPadding":3,"labelFontSize":20,"titleFontSize":18.5,"titlePadding":5,"labelOverlap":false,"labelFlush":false}}}},
     {"data":{"name":"freq"},"transform":[{"filter":"datum.p=='C'"}],"mark":{"type":"line","color":"#7fbfea","strokeWidth":6,"strokeJoin":"round","strokeCap":"round"},"encoding":{"x":{"field":"x","type":"quantitative"},"y":{"field":"b","type":"quantitative","axis":{"orient":"left","values":[0,10,20,30],"labels":false,"domain":false,"title":null,"offset":1,"tickSize":7}}}},
     {"data":{"name":"notes"},"transform":[{"filter":"datum.p=='C' && datum.k==1"}],"mark":{"type":"text","align":"left","baseline":"middle","fontSize":18.5,"color":"#1e8a2c","dx":-191,"dy":24},"encoding":{"x":{"datum":66.1,"type":"quantitative"},"y":{"datum":38.5,"type":"quantitative","axis":null},"text":{"field":"t"}}},
     {"data":{"name":"notes"},"transform":[{"filter":"datum.p=='C' && datum.k==2"}],"mark":{"type":"text","align":"left","baseline":"middle","fontSize":18.5,"color":"#7fbfea","dx":-191,"dy":46},"encoding":{"x":{"datum":66.1,"type":"quantitative"},"y":{"datum":38.5,"type":"quantitative","axis":null},"text":{"field":"t"}}}
    ]}
  ],"spacing":18,"bounds":"flush","resolve":{"scale":{"x":"independent","y":"independent"}}},
  {"vconcat":[
   {"width":421,"height":237,
    "layer":[
     {"data":{"name":"bars"},"transform":[{"filter":"datum.p=='D'"}],"mark":{"type":"rect","color":"#7f7f7f","stroke":"#000","strokeWidth":1,"binSpacing":0},"encoding":{"x":{"field":"b","type":"quantitative","bin":{"binned":true,"step":2},"scale":{"domain":[-2.6,66.1],"nice":false,"zero":false},"axis":null},"y":{"field":"v","type":"quantitative","scale":{"domain":[-4.6,104.6],"nice":false,"zero":false},"axis":{"values":[0,20,40,60,80,100],"title":"Prob. of Mortality [%]","offset":4,"tickSize":5,"labelAngle":-90,"labelAlign":"center","labelBaseline":"alphabetic","labelPadding":1.5,"labelFontSize":20,"titleFontSize":18.5,"titlePadding":5,"labelOverlap":false,"labelFlush":false}},"y2":{"datum":0}}},
     {"data":{"name":"bars"},"transform":[{"filter":"datum.p=='D'"}],"mark":{"type":"rect","color":"#85bf3f","stroke":"#000","strokeWidth":1,"binSpacing":0},"encoding":{"x":{"field":"b","type":"quantitative","bin":{"binned":true,"step":2},"axis":null},"y":{"field":"v","type":"quantitative"},"y2":{"datum":100}}},
     {"data":{"name":"bars"},"transform":[{"filter":"datum.p=='D' && isValid(datum.g)"}],"mark":{"type":"rect","color":"#77e600","binSpacing":0},"encoding":{"x":{"field":"b","type":"quantitative","bin":{"binned":true,"step":2},"axis":null},"y":{"field":"v","type":"quantitative"},"y2":{"field":"g"}}},
     {"data":{"name":"bars"},"transform":[{"filter":"datum.p=='D' && isValid(datum.g)"}],"mark":{"type":"rect","fillOpacity":0,"stroke":"#000","strokeWidth":1,"binSpacing":0},"encoding":{"x":{"field":"b","type":"quantitative","bin":{"binned":true,"step":2},"axis":null},"y":{"field":"v","type":"quantitative"},"y2":{"datum":100}}},
     {"data":{"values":[{}]},"mark":{"type":"rule","color":"#000","strokeWidth":1},"encoding":{"x":{"datum":0,"type":"quantitative","axis":null},"x2":{"datum":64},"y":{"datum":0,"type":"quantitative"}}},
     {"data":{"name":"post"},"transform":[{"filter":"datum.p=='D'"}],"mark":{"type":"area","color":"#f58220","opacity":0.5},"encoding":{"x":{"field":"x","type":"quantitative","axis":null},"y":{"field":"l9","type":"quantitative"},"y2":{"field":"h9"}}},
     {"data":{"name":"post"},"transform":[{"filter":"datum.p=='D'"}],"mark":{"type":"area","color":"#f58220","opacity":0.45},"encoding":{"x":{"field":"x","type":"quantitative","axis":null},"y":{"field":"l5","type":"quantitative"},"y2":{"field":"h5"}}},
     {"data":{"name":"post"},"transform":[{"filter":"datum.p=='D'"}],"mark":{"type":"line","color":"#f7821e","strokeWidth":8,"strokeCap":"round","strokeJoin":"round"},"encoding":{"x":{"field":"x","type":"quantitative","axis":null},"y":{"field":"m","type":"quantitative"}}},
     {"data":{"name":"letters"},"transform":[{"filter":"datum.p=='D'"}],"mark":{"type":"text","align":"left","baseline":"alphabetic","fontSize":19,"fontWeight":"bold","color":"#000","dx":-55,"dy":15},"encoding":{"x":{"datum":-2.6,"type":"quantitative","axis":null},"y":{"datum":104.6,"type":"quantitative"},"text":{"field":"p"}}}
    ]},
   {"width":421,"height":98,
    "resolve":{"axis":{"y":"independent"}},
    "layer":[
     {"data":{"name":"freq"},"transform":[{"filter":"datum.p=='D'"}],"mark":{"type":"line","color":"#77e600","strokeWidth":6,"strokeJoin":"round","strokeCap":"round"},"encoding":{"x":{"field":"x","type":"quantitative","scale":{"domain":[-2.6,66.1],"nice":false,"zero":false},"axis":{"values":[0,10,20,30,40,50,60],"title":"DBH [cm]","offset":6,"tickSize":6,"labelPadding":1,"labelFontSize":20.5,"labelAngle":0,"titleFontSize":18.5,"titlePadding":2,"labelOverlap":false,"labelFlush":false}},"y":{"field":"a","type":"quantitative","scale":{"domain":[-0.32,8.32],"nice":false,"zero":false},"axis":{"orient":"left","values":[0,4,8],"title":"Freq.","offset":1,"tickSize":7,"labelAngle":-90,"labelAlign":"center","labelBaseline":"alphabetic","labelPadding":3,"labelFontSize":20,"titleFontSize":18.5,"titlePadding":5,"labelOverlap":false,"labelFlush":false}}}},
     {"data":{"name":"freq"},"transform":[{"filter":"datum.p=='D'"}],"mark":{"type":"line","color":"#7f7f7f","strokeWidth":6,"strokeJoin":"round","strokeCap":"round"},"encoding":{"x":{"field":"x","type":"quantitative"},"y":{"field":"b","type":"quantitative","axis":{"orient":"left","values":[0,2,4,6,8],"labels":false,"domain":false,"title":null,"offset":1,"tickSize":7}}}},
     {"data":{"name":"notes"},"transform":[{"filter":"datum.p=='D' && datum.k==1"}],"mark":{"type":"text","align":"left","baseline":"middle","fontSize":18.5,"color":"#77e600","dx":-145,"dy":24},"encoding":{"x":{"datum":66.1,"type":"quantitative"},"y":{"datum":8.32,"type":"quantitative","axis":null},"text":{"field":"t"}}},
     {"data":{"name":"notes"},"transform":[{"filter":"datum.p=='D' && datum.k==2"}],"mark":{"type":"text","align":"left","baseline":"middle","fontSize":18.5,"color":"#7f7f7f","dx":-145,"dy":46},"encoding":{"x":{"datum":66.1,"type":"quantitative"},"y":{"datum":8.32,"type":"quantitative","axis":null},"text":{"field":"t"}}}
    ]}
  ],"spacing":18,"bounds":"flush","resolve":{"scale":{"x":"independent","y":"independent"}}},
  {"width":200,"height":240,"view":{"stroke":null},
   "data":{"name":"legend"},"transform":[{"filter":"datum.sec==2"}],
   "layer":[
    {"mark":{"type":"rule","strokeWidth":9,"strokeCap":"round"},"encoding":{"x":{"datum":12,"type":"quantitative","scale":{"domain":[0,200],"nice":false,"zero":false},"axis":null},"x2":{"datum":49},"y":{"field":"i","type":"quantitative","scale":{"domain":[-0.476,10.19],"reverse":true,"nice":false,"zero":false},"axis":null},"color":{"field":"k","type":"nominal","scale":{"domain":["healthy","attacked","bg","br","post","brbd","bglime"],"range":["#1b8a3f","#7fbfea","#85bf3f","#a3282b","#f7821e","#7f7f7f","#77e600"]},"legend":null}}},
    {"mark":{"type":"text","align":"left","baseline":"middle","fontSize":18.5,"color":"#000"},"encoding":{"x":{"datum":64,"type":"quantitative","axis":null},"y":{"field":"i","type":"quantitative","axis":null},"text":{"field":"t"}}}
   ]}
 ]},
{"title":{"text":"2011 (PIEN)","anchor":"middle","fontSize":22.5,"offset":6,"dx":-96},
 "spacing":17,
 "resolve":{"scale":{"x":"independent","y":"independent","color":"independent"}},
 "hconcat":[
  {"vconcat":[
   {"width":421,"height":237,
    "layer":[
     {"data":{"name":"bars"},"transform":[{"filter":"datum.p=='E'"}],"mark":{"type":"rect","color":"#7fbfea","stroke":"#000","strokeWidth":1,"binSpacing":0},"encoding":{"x":{"field":"b","type":"quantitative","bin":{"binned":true,"step":2},"scale":{"domain":[-5.08,128.57],"nice":false,"zero":false},"axis":null},"y":{"field":"v","type":"quantitative","scale":{"domain":[-4.6,104.6],"nice":false,"zero":false},"axis":{"values":[0,20,40,60,80,100],"title":"Prob. of Attack [%]","offset":4,"tickSize":5,"labelAngle":-90,"labelAlign":"center","labelBaseline":"alphabetic","labelPadding":1.5,"labelFontSize":20,"titleFontSize":18.5,"titlePadding":5,"labelOverlap":false,"labelFlush":false}},"y2":{"datum":0}}},
     {"data":{"name":"bars"},"transform":[{"filter":"datum.p=='E'"}],"mark":{"type":"rect","color":"#1e8a2a","stroke":"#000","strokeWidth":1,"binSpacing":0},"encoding":{"x":{"field":"b","type":"quantitative","bin":{"binned":true,"step":2},"axis":null},"y":{"field":"v","type":"quantitative"},"y2":{"datum":100}}},
     {"data":{"values":[{}]},"mark":{"type":"rule","color":"#000","strokeWidth":1},"encoding":{"x":{"datum":0,"type":"quantitative","axis":null},"x2":{"datum":124},"y":{"datum":0,"type":"quantitative"}}},
     {"data":{"name":"post"},"transform":[{"filter":"datum.p=='E'"}],"mark":{"type":"area","color":"#f58220","opacity":0.5},"encoding":{"x":{"field":"x","type":"quantitative","axis":null},"y":{"field":"l9","type":"quantitative"},"y2":{"field":"h9"}}},
     {"data":{"name":"post"},"transform":[{"filter":"datum.p=='E'"}],"mark":{"type":"area","color":"#f58220","opacity":0.45},"encoding":{"x":{"field":"x","type":"quantitative","axis":null},"y":{"field":"l5","type":"quantitative"},"y2":{"field":"h5"}}},
     {"data":{"name":"post"},"transform":[{"filter":"datum.p=='E'"}],"mark":{"type":"line","color":"#f7821e","strokeWidth":8,"strokeCap":"round","strokeJoin":"round"},"encoding":{"x":{"field":"x","type":"quantitative","axis":null},"y":{"field":"m","type":"quantitative"}}},
     {"data":{"name":"letters"},"transform":[{"filter":"datum.p=='E'"}],"mark":{"type":"text","align":"left","baseline":"alphabetic","fontSize":19,"fontWeight":"bold","color":"#000","dx":-49.5,"dy":15},"encoding":{"x":{"datum":-5.08,"type":"quantitative","axis":null},"y":{"datum":104.6,"type":"quantitative"},"text":{"field":"p"}}}
    ]},
   {"width":421,"height":98,
    "resolve":{"axis":{"y":"independent"}},
    "layer":[
     {"data":{"name":"freq"},"transform":[{"filter":"datum.p=='E'"}],"mark":{"type":"line","color":"#1e8a2c","strokeWidth":6,"strokeJoin":"round","strokeCap":"round"},"encoding":{"x":{"field":"x","type":"quantitative","scale":{"domain":[-5.08,128.57],"nice":false,"zero":false},"axis":{"values":[0,20,40,60,80,100,120],"title":"DBH [cm]","offset":6,"tickSize":6,"labelPadding":1,"labelFontSize":20.5,"labelAngle":0,"titleFontSize":18.5,"titlePadding":2,"labelOverlap":false,"labelFlush":false}},"y":{"field":"a","type":"quantitative","scale":{"domain":[-1.96,50.96],"nice":false,"zero":false},"axis":{"orient":"left","values":[0,20,40],"title":"Freq.","offset":1,"tickSize":7,"labelAngle":-90,"labelAlign":"center","labelBaseline":"alphabetic","labelPadding":3,"labelFontSize":20,"titleFontSize":18.5,"titlePadding":5,"labelOverlap":false,"labelFlush":false}}}},
     {"data":{"name":"freq"},"transform":[{"filter":"datum.p=='E'"}],"mark":{"type":"line","color":"#7fbfea","strokeWidth":6,"strokeJoin":"round","strokeCap":"round"},"encoding":{"x":{"field":"x","type":"quantitative"},"y":{"field":"b","type":"quantitative","axis":{"orient":"left","values":[0,10,20,30,40,50],"labels":false,"domain":false,"title":null,"offset":1,"tickSize":7}}}},
     {"data":{"name":"notes"},"transform":[{"filter":"datum.p=='E' && datum.k==1"}],"mark":{"type":"text","align":"left","baseline":"middle","fontSize":18.5,"color":"#1e8a2c","dx":-191,"dy":24},"encoding":{"x":{"datum":128.57,"type":"quantitative"},"y":{"datum":50.96,"type":"quantitative","axis":null},"text":{"field":"t"}}},
     {"data":{"name":"notes"},"transform":[{"filter":"datum.p=='E' && datum.k==2"}],"mark":{"type":"text","align":"left","baseline":"middle","fontSize":18.5,"color":"#7fbfea","dx":-191,"dy":46},"encoding":{"x":{"datum":128.57,"type":"quantitative"},"y":{"datum":50.96,"type":"quantitative","axis":null},"text":{"field":"t"}}}
    ]}
  ],"spacing":18,"bounds":"flush","resolve":{"scale":{"x":"independent","y":"independent"}}},
  {"vconcat":[
   {"width":421,"height":237,
    "layer":[
     {"data":{"name":"bars"},"transform":[{"filter":"datum.p=='F'"}],"mark":{"type":"rect","color":"#7f7f7f","stroke":"#000","strokeWidth":1,"binSpacing":0},"encoding":{"x":{"field":"b","type":"quantitative","bin":{"binned":true,"step":2},"scale":{"domain":[-5.08,128.57],"nice":false,"zero":false},"axis":null},"y":{"field":"v","type":"quantitative","scale":{"domain":[-4.6,104.6],"nice":false,"zero":false},"axis":{"values":[0,20,40,60,80,100],"title":"Prob. of Mortality [%]","offset":4,"tickSize":5,"labelAngle":-90,"labelAlign":"center","labelBaseline":"alphabetic","labelPadding":1.5,"labelFontSize":20,"titleFontSize":18.5,"titlePadding":5,"labelOverlap":false,"labelFlush":false}},"y2":{"datum":0}}},
     {"data":{"name":"bars"},"transform":[{"filter":"datum.p=='F'"}],"mark":{"type":"rect","color":"#77e600","stroke":"#000","strokeWidth":1,"binSpacing":0},"encoding":{"x":{"field":"b","type":"quantitative","bin":{"binned":true,"step":2},"axis":null},"y":{"field":"v","type":"quantitative"},"y2":{"datum":100}}},
     {"data":{"values":[{}]},"mark":{"type":"rule","color":"#000","strokeWidth":1},"encoding":{"x":{"datum":0,"type":"quantitative","axis":null},"x2":{"datum":124},"y":{"datum":0,"type":"quantitative"}}},
     {"data":{"name":"post"},"transform":[{"filter":"datum.p=='F'"}],"mark":{"type":"area","color":"#f58220","opacity":0.5},"encoding":{"x":{"field":"x","type":"quantitative","axis":null},"y":{"field":"l9","type":"quantitative"},"y2":{"field":"h9"}}},
     {"data":{"name":"post"},"transform":[{"filter":"datum.p=='F'"}],"mark":{"type":"area","color":"#f58220","opacity":0.45},"encoding":{"x":{"field":"x","type":"quantitative","axis":null},"y":{"field":"l5","type":"quantitative"},"y2":{"field":"h5"}}},
     {"data":{"name":"post"},"transform":[{"filter":"datum.p=='F'"}],"mark":{"type":"line","color":"#f7821e","strokeWidth":8,"strokeCap":"round","strokeJoin":"round"},"encoding":{"x":{"field":"x","type":"quantitative","axis":null},"y":{"field":"m","type":"quantitative"}}},
     {"data":{"name":"letters"},"transform":[{"filter":"datum.p=='F'"}],"mark":{"type":"text","align":"left","baseline":"alphabetic","fontSize":19,"fontWeight":"bold","color":"#000","dx":-55,"dy":15},"encoding":{"x":{"datum":-5.08,"type":"quantitative","axis":null},"y":{"datum":104.6,"type":"quantitative"},"text":{"field":"p"}}}
    ]},
   {"width":421,"height":98,
    "resolve":{"axis":{"y":"independent"}},
    "layer":[
     {"data":{"name":"freq"},"transform":[{"filter":"datum.p=='F'"}],"mark":{"type":"line","color":"#77e600","strokeWidth":6,"strokeJoin":"round","strokeCap":"round"},"encoding":{"x":{"field":"x","type":"quantitative","scale":{"domain":[-5.08,128.57],"nice":false,"zero":false},"axis":{"values":[0,20,40,60,80,100,120],"title":"DBH [cm]","offset":6,"tickSize":6,"labelPadding":1,"labelFontSize":20.5,"labelAngle":0,"titleFontSize":18.5,"titlePadding":2,"labelOverlap":false,"labelFlush":false}},"y":{"field":"a","type":"quantitative","scale":{"domain":[-1.36,35.36],"nice":false,"zero":false},"axis":{"orient":"left","values":[0,15,30],"title":"Freq.","offset":1,"tickSize":7,"labelAngle":-90,"labelAlign":"center","labelBaseline":"alphabetic","labelPadding":3,"labelFontSize":20,"titleFontSize":18.5,"titlePadding":5,"labelOverlap":false,"labelFlush":false}}}},
     {"data":{"name":"freq"},"transform":[{"filter":"datum.p=='F'"}],"mark":{"type":"line","color":"#7f7f7f","strokeWidth":6,"strokeJoin":"round","strokeCap":"round"},"encoding":{"x":{"field":"x","type":"quantitative"},"y":{"field":"b","type":"quantitative","axis":{"orient":"left","values":[0,5,10,15,20,25,30],"labels":false,"domain":false,"title":null,"offset":1,"tickSize":7}}}},
     {"data":{"name":"notes"},"transform":[{"filter":"datum.p=='F' && datum.k==1"}],"mark":{"type":"text","align":"left","baseline":"middle","fontSize":18.5,"color":"#77e600","dx":-155,"dy":24},"encoding":{"x":{"datum":128.57,"type":"quantitative"},"y":{"datum":35.36,"type":"quantitative","axis":null},"text":{"field":"t"}}},
     {"data":{"name":"notes"},"transform":[{"filter":"datum.p=='F' && datum.k==2"}],"mark":{"type":"text","align":"left","baseline":"middle","fontSize":18.5,"color":"#7f7f7f","dx":-155,"dy":46},"encoding":{"x":{"datum":128.57,"type":"quantitative"},"y":{"datum":35.36,"type":"quantitative","axis":null},"text":{"field":"t"}}}
    ]}
  ],"spacing":18,"bounds":"flush","resolve":{"scale":{"x":"independent","y":"independent"}}},
  {"width":200,"height":240,"view":{"stroke":null},
   "data":{"name":"legend"},"transform":[{"filter":"datum.sec==3"}],
   "layer":[
    {"mark":{"type":"rule","strokeWidth":9,"strokeCap":"round"},"encoding":{"x":{"datum":12,"type":"quantitative","scale":{"domain":[0,200],"nice":false,"zero":false},"axis":null},"x2":{"datum":49},"y":{"field":"i","type":"quantitative","scale":{"domain":[-0.476,10.19],"reverse":true,"nice":false,"zero":false},"axis":null},"color":{"field":"k","type":"nominal","scale":{"domain":["healthy","attacked","bg","br","post","brbd","bglime"],"range":["#1b8a3f","#7fbfea","#85bf3f","#a3282b","#f7821e","#7f7f7f","#77e600"]},"legend":null}}},
    {"mark":{"type":"text","align":"left","baseline":"middle","fontSize":18.5,"color":"#000"},"encoding":{"x":{"datum":64,"type":"quantitative","axis":null},"y":{"field":"i","type":"quantitative","axis":null},"text":{"field":"t"}}}
   ]}
 ]}
],"spacing":4.5,"resolve":{"scale":{"x":"independent","y":"independent","color":"independent"}}},
{"width":1357,"height":150,"view":{"stroke":null},
 "data":{"name":"cap"},
 "encoding":{"x":{"datum":0,"type":"quantitative","scale":{"domain":[0,1357],"nice":false,"zero":false},"axis":null},"y":{"field":"l","type":"quantitative","scale":{"domain":[0.5,6.5],"reverse":true,"nice":false,"zero":false},"axis":null},"text":{"field":"t"}},
 "layer":[
  {"transform":[{"filter":"datum.g=='n' || datum.g=='s1'"}],"mark":{"type":"text","align":"left","baseline":"middle","fontSize":17.9,"color":"#3a3a3a"}},
  {"transform":[{"filter":"datum.g=='b1'"}],"mark":{"type":"text","align":"left","baseline":"middle","fontSize":17.9,"fontWeight":"bold","color":"#222222"}},
  {"transform":[{"filter":"datum.g=='n1'"}],"mark":{"type":"text","align":"left","baseline":"middle","fontSize":17.9,"color":"#3a3a3a","dx":97.5}},
  {"transform":[{"filter":"datum.g=='s2'"}],"mark":{"type":"text","align":"left","baseline":"middle","fontSize":17.9,"fontWeight":"bold","color":"#222222","dx":399}},
  {"transform":[{"filter":"datum.g=='s3'"}],"mark":{"type":"text","align":"left","baseline":"middle","fontSize":17.9,"color":"#3a3a3a","dx":441.7}},
  {"transform":[{"filter":"datum.g=='s4'"}],"mark":{"type":"text","align":"left","baseline":"middle","fontSize":17.9,"fontWeight":"bold","color":"#222222","dx":608.9}},
  {"transform":[{"filter":"datum.g=='s5'"}],"mark":{"type":"text","align":"left","baseline":"middle","fontSize":17.9,"color":"#3a3a3a","dx":651.6}},
  {"transform":[{"filter":"datum.g=='s6'"}],"mark":{"type":"text","align":"left","baseline":"middle","fontSize":17.9,"fontWeight":"bold","color":"#222222","dx":867.5}},
  {"transform":[{"filter":"datum.g=='s7'"}],"mark":{"type":"text","align":"left","baseline":"middle","fontSize":17.9,"color":"#3a3a3a","dx":907.3}}
 ]}
],
"spacing":42,
"center":true,
"resolve":{"scale":{"x":"independent","y":"independent","color":"independent"}},
"config":{
 "font":"Liberation Sans",
 "view":{"stroke":"#000000","strokeWidth":1},
 "axis":{"grid":false,"domainColor":"#000000","tickColor":"#000000","labelColor":"#000000","titleColor":"#000000","titleFontWeight":"normal","labelOverlap":false,"labelFlush":false,"domainWidth":1,"tickWidth":1,"labelFont":"Liberation Sans","titleFont":"Liberation Sans"},
 "title":{"font":"Liberation Sans","color":"#000000","fontWeight":"normal"}
}
}
